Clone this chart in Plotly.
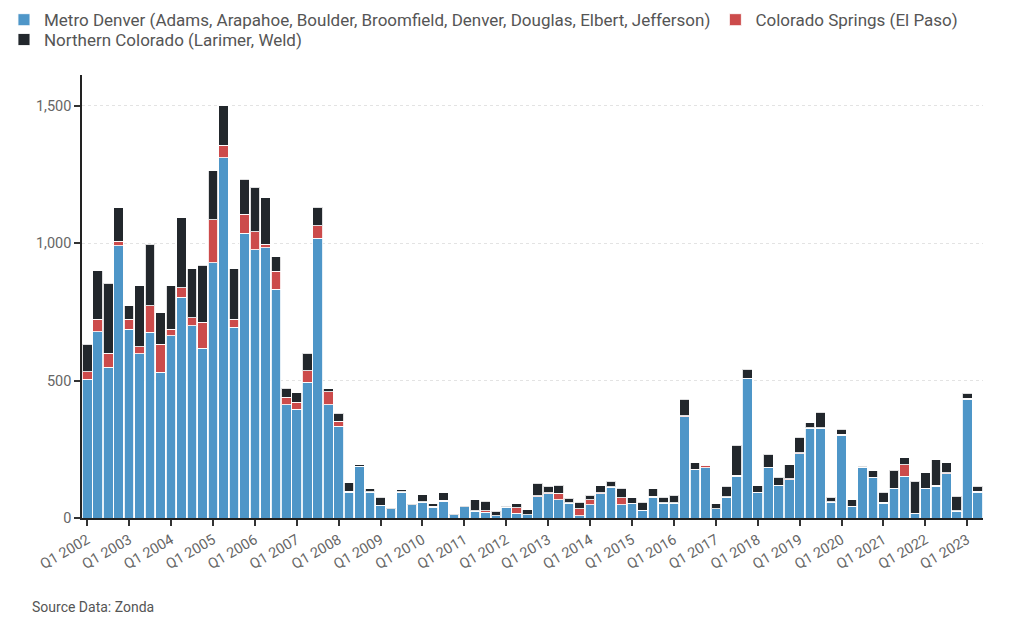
import plotly.graph_objects as go

years = list(range(2002, 2024))
quarters = [f"Q{q} {y}" for y in years for q in range(1, 5)][:86]

tick_labels = [f"Q1 {y}" for y in years]

metro_denver = [
    505, 678, 548, 990, 686, 597, 676, 530, 662, 803, 700, 617, 929, 1311, 694, 1035,
    975, 983, 832, 412, 396, 494, 1017, 412, 333, 94, 188, 94, 45, 33, 94, 48,
    57, 39, 61, 11, 41, 24, 21, 9, 39, 17, 11, 78, 88, 67, 54, 9,
    49, 88, 112, 49, 51, 27, 76, 54, 54, 368, 176, 183, 33, 76, 152, 506,
    91, 183, 118, 140, 234, 326, 326, 57, 301, 41, 185, 146, 54, 106, 152, 15,
    106, 116, 161, 24, 432, 94,
]

colorado_springs = [
    26, 45, 51, 17, 37, 26, 95, 102, 24, 35, 29, 94, 155, 45, 29, 70,
    66, 13, 66, 27, 25, 42, 45, 48, 18, 3, 0, 2, 2, 0, 2, 0,
    3, 4, 3, 0, 0, 3, 5, 0, 0, 20, 0, 3, 3, 23, 2, 24,
    17, 3, 2, 24, 2, 2, 3, 2, 2, 3, 2, 8, 1, 2, 3, 3,
    3, 2, 2, 2, 3, 2, 3, 2, 3, 2, 0, 2, 3, 3, 42, 2,
    3, 3, 3, 2, 3, 3,
]

northern_colorado = [
    101, 177, 254, 121, 48, 222, 225, 115, 159, 254, 177, 209, 179, 143, 183, 127,
    161, 169, 52, 33, 35, 63, 68, 10, 30, 32, 6, 10, 29, 2, 6, 2,
    24, 8, 27, 4, 3, 39, 35, 15, 4, 14, 19, 46, 25, 30, 16, 24,
    16, 27, 20, 36, 20, 28, 27, 20, 26, 61, 23, 3, 17, 38, 110, 32,
    24, 47, 29, 52, 56, 18, 55, 17, 18, 23, 3, 23, 37, 64, 26, 117,
    56, 93, 37, 53, 19, 19,
]

series_names = [
    "Metro Denver (Adams, Arapahoe, Boulder, Broomfield, Denver, Douglas, Elbert, Jefferson)",
    "Colorado Springs (El Paso)",
    "Northern Colorado (Larimer, Weld)",
]
series_colors = ["#4e96c8", "#cc4b4b", "#22272c"]
series_legends = ["legend", "legend", "legend2"]

fig = go.Figure()
for name, vals, col, lg in zip(series_names, [metro_denver, colorado_springs, northern_colorado],
                               series_colors, series_legends):
    fig.add_trace(go.Bar(
        x=quarters, y=vals, name=name, legend=lg,
        marker=dict(color=col, line=dict(color="rgba(255,255,255,0.85)", width=1)),
    ))

legend_font = dict(family="Roboto", size=17, color="#555555")
tick_font = dict(family="Roboto", size=14.5, color="#666666")

fig.update_layout(
    width=1024, height=636,
    barmode="stack", bargap=0.08,
    plot_bgcolor="white", paper_bgcolor="white",
    font=dict(family="Roboto", color="#555555", size=13),
    margin=dict(l=82, r=41, t=75, b=118, autoexpand=False),
    legend=dict(
        orientation="h", xref="paper", yref="paper",
        x=-0.0866, y=1.1645, xanchor="left", yanchor="top",
        font=legend_font, traceorder="normal", itemclick=False,
        bgcolor="rgba(0,0,0,0)",
    ),
    legend2=dict(
        orientation="h", xref="paper", yref="paper",
        x=-0.0866, y=1.1197, xanchor="left", yanchor="top",
        font=legend_font, traceorder="normal", itemclick=False,
        bgcolor="rgba(0,0,0,0)",
    ),
    xaxis=dict(
        type="category", categoryorder="array", categoryarray=quarters,
        tickvals=tick_labels, ticktext=tick_labels, automargin=False,
        tickangle=-30, ticks="outside", ticklen=6, tickcolor="#333333", tickwidth=1.5,
        showline=True, linecolor="#222222", linewidth=2,
        showgrid=False, tickfont=tick_font,
    ),
    yaxis=dict(
        range=[0, 1611], tickvals=[0, 500, 1000, 1500], tickformat=",", automargin=False,
        ticks="outside", ticklen=6, tickcolor="#333333", tickwidth=1.5,
        showline=True, linecolor="#222222", linewidth=1.5,
        showgrid=True, gridcolor="#e3e3e3", griddash="dot", gridwidth=1,
        zeroline=False, tickfont=tick_font,
    ),
    annotations=[dict(
        text="Source Data: Zonda", xref="paper", yref="paper",
        x=-0.058, y=-0.2, xanchor="left", yanchor="middle",
        showarrow=False, font=dict(family="Roboto", size=14, color="#555555"),
    )],
)

fig.write_html("out.html", config={"displayModeBar": False},
               post_script="document.body.style.margin='0';")
